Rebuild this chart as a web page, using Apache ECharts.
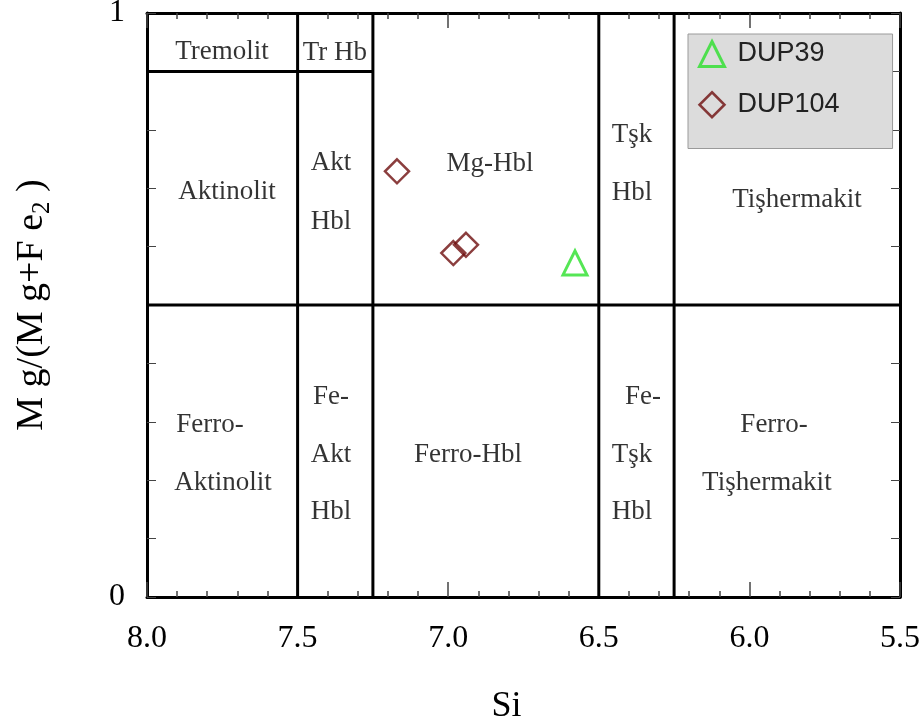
<!DOCTYPE html>
<html><head><meta charset="utf-8">
<script src="https://cdn.jsdelivr.net/npm/echarts@6/dist/echarts.min.js"></script>
<style>html,body{margin:0;padding:0;background:#fff}#c{width:922px;height:725px}</style>
</head><body><div id="c"></div>
<script>
// ---- data ----
const xTickLabels = [8.0, 7.5, 7.0, 6.5, 6.0, 5.5];
const yTickLabels = [0, 1];
const dup39 = [[6.579, 0.572]];
const dup104 = [[7.17, 0.729], [6.983, 0.589], [6.941, 0.603]];
const boundaries = [
  [[7.5, 0], [7.5, 1]],
  [[7.25, 0], [7.25, 1]],
  [[6.5, 0], [6.5, 1]],
  [[6.25, 0], [6.25, 1]],
  [[8.0, 0.5], [5.5, 0.5]],
  [[8.0, 0.9], [7.25, 0.9]]
];
const zoneLabels = ['Tremolit', 'Tr Hb', 'Aktinolit', 'Akt', 'Hbl', 'Mg-Hbl', 'Tşk', 'Hbl', 'Tişhermakit',
  'Ferro-', 'Aktinolit', 'Fe-', 'Akt', 'Hbl', 'Ferro-Hbl', 'Fe-', 'Tşk', 'Hbl', 'Ferro-', 'Tişhermakit'];
const zoneSi = [7.751, 7.376, 7.734, 7.389, 7.389, 6.861, 6.390, 6.390, 5.842,
  7.791, 7.748, 7.389, 7.389, 7.389, 6.934, 6.353, 6.390, 6.390, 5.918, 5.942];
const zoneMg = [0.933, 0.932, 0.693, 0.743, 0.642, 0.742, 0.791, 0.692, 0.680,
  0.295, 0.195, 0.342, 0.243, 0.146, 0.243, 0.342, 0.243, 0.146, 0.295, 0.195];

const green = '#2ae02a';
const darkRed = '#6e0e0e';
const serif = 'Liberation Serif';
const tickColor = '#444';

const chart = echarts.init(document.getElementById('c'));

const gridBox = { left: 147, right: 22, top: 13, bottom: 128, containLabel: false, outerBoundsMode: 'none' };

// main axes: line + labels only
function xMain(pos, showLabel) {
  return {
    type: 'value', gridIndex: 0, position: pos, min: 5.5, max: 8.0, interval: 0.5, inverse: true,
    axisLine: { show: true, onZero: false, lineStyle: { color: '#000', width: 3 } },
    axisTick: { show: false },
    splitLine: { show: false },
    axisLabel: {
      show: showLabel, fontFamily: serif, fontSize: 32, color: '#000', margin: 26,
      formatter: v => xTickLabels.some(t => Math.abs(t - v) < 1e-6) ? v.toFixed(1) : ''
    }
  };
}
// tick-only axes (own grids)
function xTicks(gridIndex, pos, interval, len) {
  return {
    type: 'value', gridIndex: gridIndex, position: pos, min: 5.5, max: 8.0, interval: interval, inverse: true,
    axisLine: { show: false, onZero: false },
    axisLabel: { show: false },
    axisTick: { show: true, inside: true, length: len, lineStyle: { color: tickColor, width: 1.5 } },
    splitLine: { show: false }
  };
}
function yMain(pos, showLabel) {
  return {
    type: 'value', gridIndex: 0, position: pos, min: 0, max: 1, interval: 0.1,
    axisLine: { show: true, onZero: false, lineStyle: { color: '#000', width: 3 } },
    axisTick: { show: true, inside: true, length: 9, lineStyle: { color: tickColor, width: 1 } },
    splitLine: { show: false },
    axisLabel: {
      show: showLabel, fontFamily: serif, fontSize: 32, color: '#000', margin: 22, padding: [12, 0, 0, 0],
      formatter: v => yTickLabels.some(t => Math.abs(t - v) < 1e-6) ? String(Math.round(v)) : ''
    }
  };
}
function yHidden(gridIndex) {
  return {
    type: 'value', gridIndex: gridIndex, min: 0, max: 1, interval: 0.1,
    axisLine: { show: false }, axisTick: { show: false }, axisLabel: { show: false }, splitLine: { show: false }
  };
}

const xb = xMain('bottom', true);
xb.name = 'Si';
xb.nameLocation = 'middle';
xb.nameGap = 92;
xb.nameTextStyle = { fontFamily: serif, fontSize: 36, color: '#000', padding: [0, 34, 0, 0] };
const yl = yMain('left', true);
yl.name = '{a|M g/(M g+F e}{b|2}{a| )}';
yl.nameLocation = 'middle';
yl.nameGap = 92;
yl.nameTextStyle = {
  rich: {
    a: { fontFamily: serif, fontSize: 38, color: '#000', lineHeight: 46, verticalAlign: 'middle' },
    b: { fontFamily: serif, fontSize: 25, color: '#000', lineHeight: 46, verticalAlign: 'bottom' }
  }
};

const series = [];
boundaries.forEach((seg, i) => {
  series.push({
    name: 'b' + i, type: 'line', data: seg, symbol: 'none', silent: true,
    lineStyle: { color: '#000', width: 3 }, z: 3, animation: false
  });
});
series.push({
  name: 'zones', type: 'scatter', silent: true, symbolSize: 1, z: 4, animation: false,
  itemStyle: { color: 'rgba(0,0,0,0)' },
  data: zoneLabels.map((t, i) => ({ name: t, value: [zoneSi[i], zoneMg[i]] })),
  label: { show: true, position: 'inside', formatter: p => p.name, fontFamily: serif, fontSize: 27, color: '#000' }
});
series.push({
  name: 'DUP39', type: 'scatter', symbol: 'triangle', symbolSize: 24, data: dup39, z: 5,
  itemStyle: { color: 'rgba(0,0,0,0)', borderColor: green, borderWidth: 3 }
});
series.push({
  name: 'DUP104', type: 'scatter', symbol: 'diamond', symbolSize: 24, data: dup104, z: 5,
  itemStyle: { color: 'rgba(0,0,0,0)', borderColor: darkRed, borderWidth: 2.5 }
});

chart.setOption({
  animation: false,
  backgroundColor: '#fff',
  grid: [gridBox, Object.assign({}, gridBox), Object.assign({}, gridBox)],
  xAxis: [
    xb,
    xMain('top', false),
    xTicks(1, 'bottom', 0.5, 15),
    xTicks(1, 'top', 0.5, 15),
    xTicks(2, 'bottom', 0.1, 6),
    xTicks(2, 'top', 0.1, 6)
  ],
  yAxis: [yl, yMain('right', false), yHidden(1), yHidden(2)],
  legend: {
    data: [
      { name: 'DUP39', icon: 'triangle', itemStyle: { color: 'rgba(0,0,0,0)', borderColor: green, borderWidth: 3 } },
      { name: 'DUP104', icon: 'diamond', itemStyle: { color: 'rgba(0,0,0,0)', borderColor: darkRed, borderWidth: 2.5 } }
    ],
    orient: 'vertical', left: 688, top: 34, itemWidth: 25, itemHeight: 25, itemGap: 23,
    padding: [6, 53, 30, 10], selectedMode: false,
    backgroundColor: '#dcdcdc', borderColor: '#9a9a9a', borderWidth: 1, borderRadius: 0,
    textStyle: { fontFamily: 'Liberation Sans', fontSize: 27, color: '#222', padding: [0, 0, 0, 8] }
  },
  series: series
});
</script>
</body></html>
